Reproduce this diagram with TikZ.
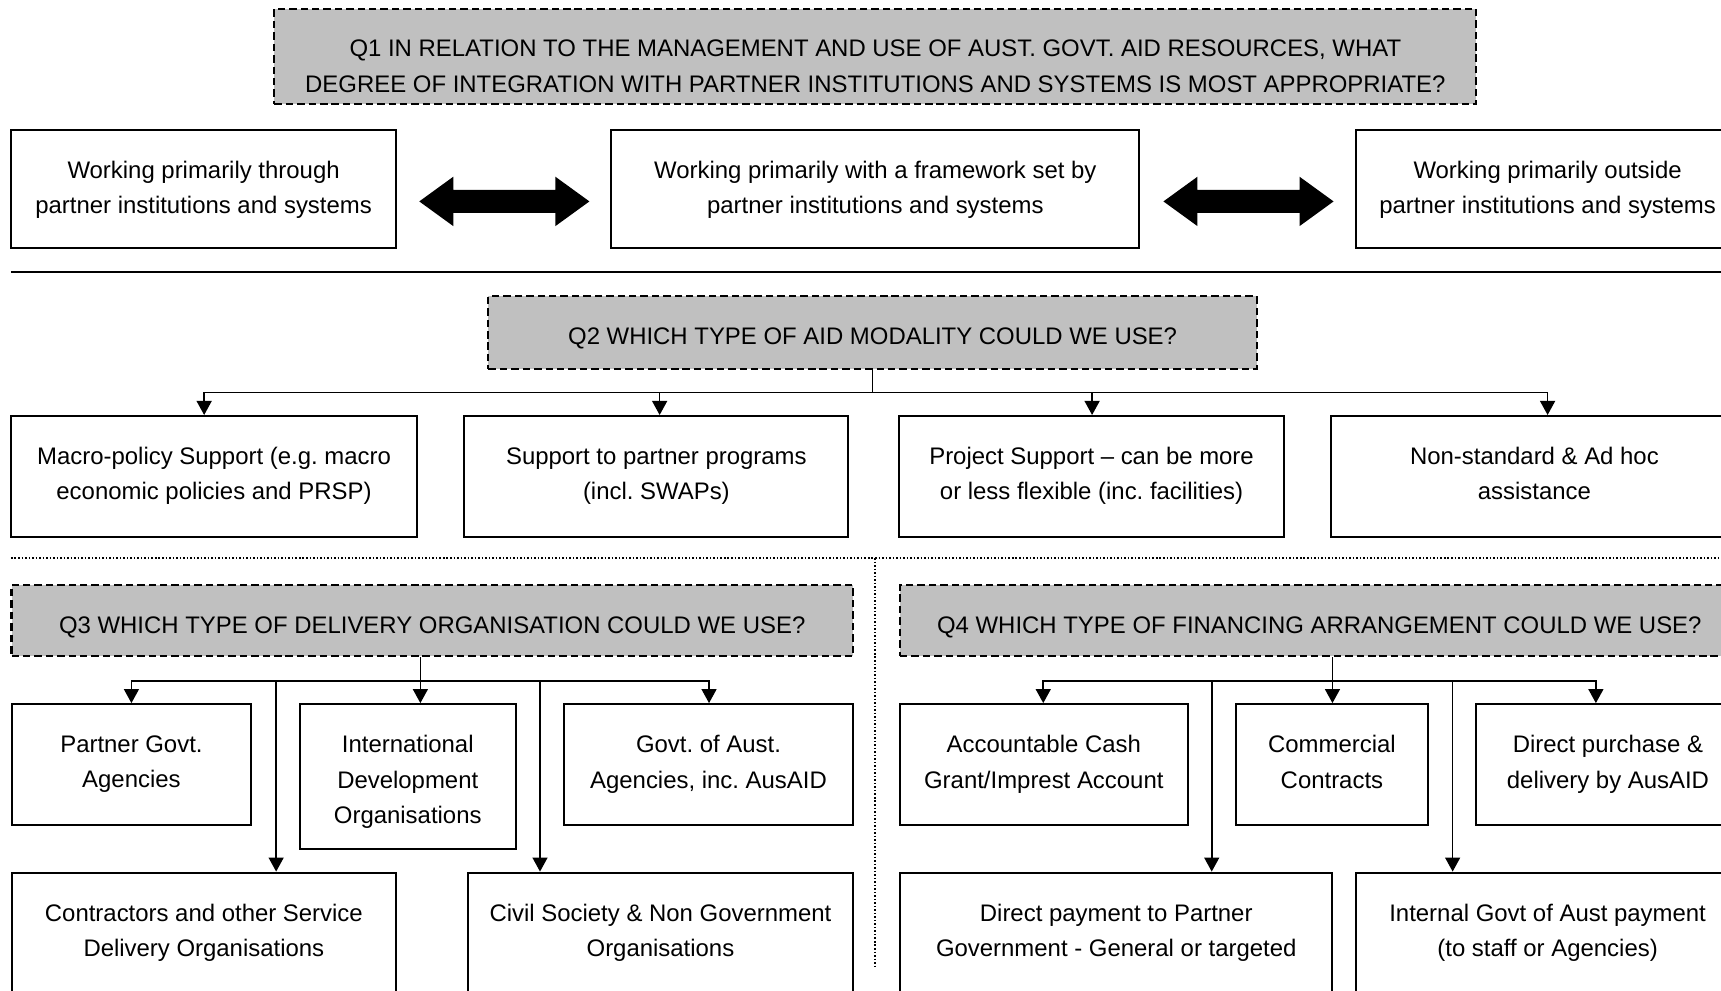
\documentclass[tikz,border=0pt]{standalone}
\usepackage{fontspec}
\setmainfont{Liberation Sans}
\usetikzlibrary{arrows.meta,fit,calc}
\definecolor{qgray}{RGB}{192,192,192}
\frenchspacing
\begin{document}
\begin{tikzpicture}[x=0.5pt,y=-0.5pt,
  every node/.style={font=\fontsize{10.9}{16}\selectfont, align=center, inner sep=0pt},
  box/.style={draw, line width=0.9pt, fill=white},
  qbox/.style={draw, line width=0.95pt, fill=qgray, dash pattern=on 3.4pt off 1.8pt},
  txt/.style={anchor=north},
  conn/.style={line width=0.75pt},
  arr/.style={line width=0.75pt, -{Triangle[length=6.4pt,width=6.8pt]}},
  sep/.style={line width=0.85pt},
  dotsep/.style={line width=0.7pt, dash pattern=on 0.7pt off 0.9pt},
  bigarrow/.style={fill=black, draw=none}
]
\useasboundingbox (0,0) rectangle (1568,902);
\clip (0,0) rectangle (1568,902);
\fill[white] (0,0) rectangle (1568,902);

% Q1 section
\node[qbox, fit={(250,8) (1345,95)}] (Q1) {};
\node[txt] (Q1t) at ([yshift=-14.6pt]Q1.north) {Q1 IN RELATION TO THE MANAGEMENT AND USE OF AUST. GOVT. AID RESOURCES, WHAT\\DEGREE OF INTEGRATION WITH PARTNER INSTITUTIONS AND SYSTEMS IS MOST APPROPRIATE?};
\node[box, fit={(10,118) (361,226)}] (A) {};
\node[txt] (At) at ([yshift=-14.6pt]A.north) {Working primarily through\\partner institutions and systems};
\node[box, fit={(557,118) (1038,226)}] (B) {};
\node[txt] (Bt) at ([yshift=-14.6pt]B.north) {Working primarily with a framework set by\\partner institutions and systems};
\node[box, fit={(1235,118) (1585,226)}] (C) {};
\node[txt] (Ct) at ([yshift=-14.6pt]C.north) {Working primarily outside\\partner institutions and systems};

% big double arrows
\foreach \cx in {459.5,1137.5}{
  \fill[bigarrow] (\cx-77.5,183.5) -- (\cx-46.5,161) -- (\cx-46.5,173) -- (\cx+46.5,173) -- (\cx+46.5,161)
    -- (\cx+77.5,183.5) -- (\cx+46.5,206) -- (\cx+46.5,194) -- (\cx-46.5,194) -- (\cx-46.5,206) -- cycle;
}

\coordinate (h1l) at (10,248);
\coordinate (h1r) at (1570,248);
\draw[sep] (h1l) -- (h1r);

% Q2 section
\node[qbox, fit={(445,270) (1145,336)}] (Q2) {};
\node[txt] (Q2t) at ([yshift=-14.6pt]Q2.north) {Q2 WHICH TYPE OF AID MODALITY COULD WE USE?};
\node[box, fit={(10,379) (380,489)}] (M1) {};
\node[txt] (M1t) at ([yshift=-14.6pt]M1.north) {Macro-policy Support (e.g. macro\\economic policies and PRSP)};
\node[box, fit={(423,379) (773,489)}] (M2) {};
\node[txt] (M2t) at ([yshift=-14.6pt]M2.north) {Support to partner programs\\(incl. SWAPs)};
\node[box, fit={(819,379) (1170,489)}] (M3) {};
\node[txt] (M3t) at ([yshift=-14.6pt]M3.north) {Project Support – can be more\\or less flexible (inc. facilities)};
\node[box, fit={(1213,379) (1583,489)}] (M4) {};
\node[txt] (M4t) at ([yshift=-14.6pt]M4.north) {Non-standard \& Ad hoc\\assistance};

\coordinate (b2) at (795,357.5);
\draw[conn] (Q2.south) -- (b2);
\draw[arr] (b2) -| (186,0 |- M1.north);
\draw[arr] (b2) -| (601,0 |- M2.north);
\draw[arr] (b2) -| (995,0 |- M3.north);
\draw[arr] (b2) -| (1410,0 |- M4.north);

\coordinate (d1l) at (10,508.5);
\coordinate (d1r) at (1570,508.5);
\coordinate (dvt) at (797,508.5);
\coordinate (dvb) at (797,881);
\draw[dotsep] (d1l) -- (d1r);
\draw[dotsep] (dvt) -- (dvb);

% Q3 section
\node[qbox, fit={(10.5,533) (777,598)}] (Q3) {};
\node[txt] (Q3t) at ([yshift=-14.6pt]Q3.north) {Q3 WHICH TYPE OF DELIVERY ORGANISATION COULD WE USE?};
\node[box, fit={(10.5,641.5) (229,752)}] (P1) {};
\node[txt] (P1t) at ([yshift=-14.6pt]P1.north) {Partner Govt.\\Agencies};
\node[box, fit={(273,641.5) (470,773.5)}] (P2) {};
\node[txt] (P2t) at ([yshift=-14.6pt]P2.north) {International\\Development\\Organisations};
\node[box, fit={(514,641.5) (777,752)}] (P3) {};
\node[txt] (P3t) at ([yshift=-14.6pt]P3.north) {Govt. of Aust.\\Agencies, inc. AusAID};
\node[box, fit={(10.5,795) (361,904)}] (P4) {};
\node[txt] (P4t) at ([yshift=-14.6pt]P4.north) {Contractors and other Service\\Delivery Organisations};
\node[box, fit={(426.5,795) (777,904)}] (P5) {};
\node[txt] (P5t) at ([yshift=-14.6pt]P5.north) {Civil Society \& Non Government\\Organisations};

\coordinate (b3) at (383,620.5);
\draw[conn] (Q3.south -| b3) -- (b3);
\draw[arr] (b3) -| (P1.north);
\draw[arr] (b3) -- (b3 |- P2.north);
\draw[arr] (b3) -| (646,0 |- P3.north);
\draw[arr] (b3) -| (251.6,0 |- P4.north);
\draw[arr] (b3) -| (492,0 |- P5.north);

% Q4 section
\node[qbox, fit={(820,533) (1584,598)}] (Q4) {};
\node[txt] (Q4t) at ([yshift=-14.6pt]Q4.north) {Q4 WHICH TYPE OF FINANCING ARRANGEMENT COULD WE USE?};
\node[box, fit={(820,641.5) (1082,752)}] (F1) {};
\node[txt] (F1t) at ([yshift=-14.6pt]F1.north) {Accountable Cash\\Grant/Imprest Account};
\node[box, fit={(1126,641.5) (1301,752)}] (F2) {};
\node[txt] (F2t) at ([yshift=-14.6pt]F2.north) {Commercial\\Contracts};
\node[box, fit={(1345,641.5) (1585,752)}] (F3) {};
\node[txt] (F3t) at ([yshift=-14.6pt]F3.north) {Direct purchase \&\\delivery by AusAID};
\node[box, fit={(820,795) (1214,904)}] (F4) {};
\node[txt] (F4t) at ([yshift=-14.6pt]F4.north) {Direct payment to Partner\\Government - General or targeted};
\node[box, fit={(1235,795) (1585,904)}] (F5) {};
\node[txt] (F5t) at ([yshift=-14.6pt]F5.north) {Internal Govt of Aust payment\\(to staff or Agencies)};

\coordinate (b4) at (1214,620.5);
\draw[conn] (Q4.south -| b4) -- (b4);
\draw[arr] (b4) -| (950.5,0 |- F1.north);
\draw[arr] (b4) -- (b4 |- F2.north);
\draw[arr] (b4) -| (1454,0 |- F3.north);
\draw[arr] (b4) -| (1104,0 |- F4.north);
\draw[arr] (b4) -| (1323.5,0 |- F5.north);
\end{tikzpicture}
\end{document}
